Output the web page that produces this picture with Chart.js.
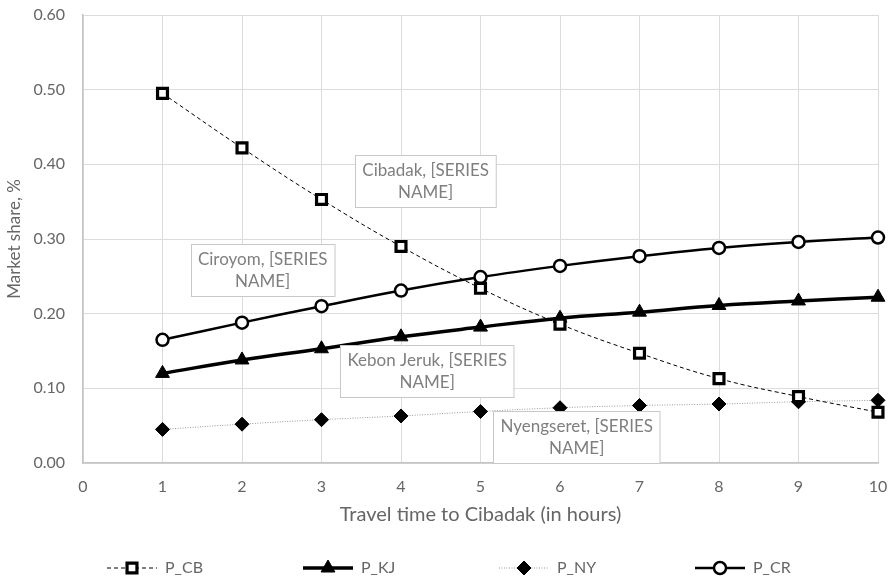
<!DOCTYPE html>
<html>
<head>
<meta charset="utf-8">
<script src="https://cdn.jsdelivr.net/npm/chart.js@4/dist/chart.umd.min.js"></script>
<style>
  html, body { margin: 0; padding: 0; background: #ffffff; }
  #wrap { width: 891px; height: 580px; }
</style>
</head>
<body>
<div id="wrap"><canvas id="c" width="891" height="580"></canvas></div>
<script>
// ---- data ----
const hours = [1, 2, 3, 4, 5, 6, 7, 8, 9, 10];
const pCB = [0.495, 0.422, 0.353, 0.290, 0.234, 0.186, 0.147, 0.113, 0.089, 0.068];
const pKJ = [0.120, 0.138, 0.153, 0.169, 0.182, 0.194, 0.202, 0.211, 0.217, 0.222];
const pNY = [0.045, 0.052, 0.058, 0.063, 0.069, 0.074, 0.077, 0.079, 0.082, 0.084];
const pCR = [0.165, 0.188, 0.210, 0.231, 0.249, 0.264, 0.277, 0.288, 0.296, 0.302];
const seriesNames = ['P_CB', 'P_KJ', 'P_NY', 'P_CR'];
const labelTexts = [
  ['Cibadak, [SERIES', 'NAME]'],
  ['Ciroyom, [SERIES', 'NAME]'],
  ['Kebon Jeruk, [SERIES', 'NAME]'],
  ['Nyengseret, [SERIES', 'NAME]']
];
const xTitle = 'Travel time to Cibadak (in hours)';
const yTitle = 'Market share, %';

// ---- styling / placement ----
const FONT = 'Lato, "Open Sans", sans-serif';
const labelAnchors = [ // data-space centres of the label boxes
  { x: 4.31, y: 0.378 },
  { x: 2.26, y: 0.258 },
  { x: 4.33, y: 0.123 },
  { x: 6.21, y: 0.035 }
];

function pts(vals) { return hours.map((h, i) => ({ x: h, y: vals[i] })); }

const datasets = [
  { label: seriesNames[0], data: pts(pCB), borderColor: '#000', borderWidth: 1, borderDash: [4, 3],
    pointStyle: 'rect', pointRadius: 7, pointBorderWidth: 3.2, pointBackgroundColor: '#fff', pointBorderColor: '#000' },
  { label: seriesNames[1], data: pts(pKJ), borderColor: '#000', borderWidth: 3.5,
    pointStyle: 'triangle', pointRadius: 8, pointBorderWidth: 1, pointBackgroundColor: '#000', pointBorderColor: '#000' },
  { label: seriesNames[2], data: pts(pNY), borderColor: '#9a9a9a', borderWidth: 1, borderDash: [1, 1.5],
    pointStyle: 'rectRot', pointRadius: 7, pointBorderWidth: 1, pointBackgroundColor: '#000', pointBorderColor: '#000' },
  { label: seriesNames[3], data: pts(pCR), borderColor: '#000', borderWidth: 2.5,
    pointStyle: 'circle', pointRadius: 6, pointBorderWidth: 2.5, pointBackgroundColor: '#fff', pointBorderColor: '#000' }
].map(d => Object.assign({ tension: 0.4, fill: false, clip: false, pointHoverRadius: d.pointRadius }, d));

function drawMarker(ctx, ds, x, y) {
  const opts = { pointStyle: ds.pointStyle, radius: ds.pointRadius, borderWidth: ds.pointBorderWidth, rotation: 0 };
  ctx.save();
  ctx.setLineDash([]);
  ctx.fillStyle = ds.pointBackgroundColor;
  ctx.strokeStyle = ds.pointBorderColor;
  ctx.lineWidth = ds.pointBorderWidth;
  Chart.helpers.drawPoint(ctx, opts, x, y);
  ctx.restore();
}

const customLegend = {
  id: 'customLegend',
  afterDraw(chart) {
    const ctx = chart.ctx;
    const y = 568, startX = 107, step = 196, lineLen = 50;
    chart.data.datasets.forEach((ds, i) => {
      const x0 = startX + i * step;
      ctx.save();
      ctx.strokeStyle = ds.borderColor;
      ctx.lineWidth = ds.borderWidth;
      ctx.setLineDash(ds.borderDash || []);
      ctx.beginPath();
      ctx.moveTo(x0, y);
      ctx.lineTo(x0 + lineLen, y);
      ctx.stroke();
      ctx.restore();
      drawMarker(ctx, ds, x0 + lineLen / 2, y);
      ctx.save();
      ctx.fillStyle = '#666666';
      ctx.font = '16px ' + FONT;
      ctx.textBaseline = 'middle';
      ctx.textAlign = 'left';
      ctx.fillText(ds.label, x0 + lineLen + 8, y);
      ctx.restore();
    });
  }
};

const boxLabels = {
  id: 'boxLabels',
  afterDatasetsDraw(chart) {
    const ctx = chart.ctx;
    const xs = chart.scales.x, ys = chart.scales.y;
    ctx.save();
    ctx.font = '17px ' + FONT;
    labelTexts.forEach((lines, i) => {
      const cx = xs.getPixelForValue(labelAnchors[i].x);
      const cy = ys.getPixelForValue(labelAnchors[i].y);
      const lh = 22;
      const w = Math.max(...lines.map(t => ctx.measureText(t).width)) + 14;
      const h = lines.length * lh + 8;
      const left = Math.round(cx - w / 2) + 0.5, top = Math.round(cy - h / 2) + 0.5;
      ctx.fillStyle = '#ffffff';
      ctx.fillRect(left, top, w, h);
      ctx.strokeStyle = '#c8c8c8';
      ctx.lineWidth = 1;
      ctx.strokeRect(left, top, w, h);
      ctx.fillStyle = '#7f7f7f';
      ctx.textAlign = 'center';
      ctx.textBaseline = 'middle';
      lines.forEach((t, k) => {
        ctx.fillText(t, cx, top + 4 + lh / 2 + k * lh);
      });
    });
    ctx.restore();
  }
};

new Chart(document.getElementById('c'), {
  type: 'line',
  data: { datasets },
  options: {
    responsive: false,
    animation: false,
    devicePixelRatio: 1,
    layout: { autoPadding: false, padding: { top: 15, right: 13, bottom: 0, left: 0 } },
    plugins: { legend: { display: false }, tooltip: { enabled: false } },
    scales: {
      x: {
        type: 'linear', min: 0, max: 10,
        ticks: { stepSize: 1, color: '#666666', font: { family: FONT, size: 16 }, padding: 14, maxRotation: 0 },
        grid: { color: '#dcdcdc', lineWidth: 1, drawTicks: false },
        border: { color: '#c4c4c4', width: 1.5 },
        title: { display: true, text: xTitle, color: '#666666', font: { family: FONT, size: 20 }, padding: { top: 53, bottom: 53 } },
        afterFit(scale) { scale.height = 117; scale.paddingLeft = 0; scale.paddingRight = 0; }
      },
      y: {
        min: 0, max: 0.6,
        ticks: { stepSize: 0.1, color: '#666666', font: { family: FONT, size: 16 }, padding: 18,
          callback: v => Number(v).toFixed(2) },
        grid: { color: '#dcdcdc', lineWidth: 1, drawTicks: false },
        border: { color: '#c4c4c4', width: 1.5 },
        title: { display: true, text: yTitle, color: '#666666', font: { family: FONT, size: 17 }, padding: { top: 4, bottom: 4 } },
        afterFit(scale) { scale.width = 83; scale.paddingTop = 0; scale.paddingBottom = 0; }
      }
    }
  },
  plugins: [boxLabels, customLegend]
});
</script>
</body>
</html>
